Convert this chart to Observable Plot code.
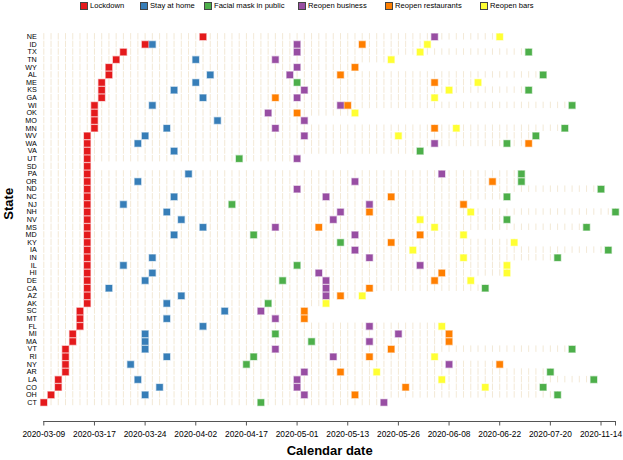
<!DOCTYPE html>
<html><head><meta charset="utf-8">
<script src="https://cdn.jsdelivr.net/npm/d3@7"></script>
<script src="https://cdn.jsdelivr.net/npm/@observablehq/plot@0.6"></script>
<style>
body{margin:0;background:#fff;font-family:"Liberation Sans",Arial,sans-serif;}
#legend{position:relative;width:623px;height:13px;font-size:7.6px;color:#000;}
.li{position:absolute;top:1px;display:flex;align-items:center;white-space:nowrap;line-height:9px;}
.sw{width:6px;height:6px;border:1px solid #444;margin-right:2px;box-sizing:content-box;}
</style></head>
<body><div id="legend"></div><div id="chart"></div>
<script>
const states = ["NE","ID","TX","TN","WY","AL","ME","KS","GA","WI","OK","MO","MN","WV","WA","VA","UT","SD","PA","OR","ND","NC","NJ","NH","NV","MS","MD","KY","IA","IN","IL","HI","DE","CA","AZ","AK","SC","MT","FL","MI","MA","VT","RI","NY","AR","LA","CO","OH","CT"];

const dates = ["2020-03-09","2020-03-10","2020-03-11","2020-03-12","2020-03-13","2020-03-14","2020-03-16","2020-03-17","2020-03-18","2020-03-19",
"2020-03-20","2020-03-21","2020-03-22","2020-03-23","2020-03-24","2020-03-25","2020-03-26","2020-03-27","2020-03-28","2020-03-30",
"2020-04-01","2020-04-02","2020-04-03","2020-04-04","2020-04-06","2020-04-07","2020-04-10","2020-04-15","2020-04-17","2020-04-20",
"2020-04-22","2020-04-24","2020-04-27","2020-04-28","2020-04-30","2020-05-01","2020-05-04","2020-05-05","2020-05-06","2020-05-08",
"2020-05-09","2020-05-11","2020-05-13","2020-05-15","2020-05-16","2020-05-18","2020-05-20","2020-05-22","2020-05-25","2020-05-26",
"2020-05-28","2020-05-29","2020-05-31","2020-06-01","2020-06-03","2020-06-05","2020-06-08","2020-06-10","2020-06-12","2020-06-14",
"2020-06-15","2020-06-17","2020-06-19","2020-06-22","2020-06-26","2020-06-30","2020-07-03","2020-07-07","2020-07-10","2020-07-15",
"2020-07-20","2020-07-23","2020-07-28","2020-08-01","2020-08-17","2020-09-15","2020-10-20","2020-11-14","2020-11-17","2020-11-20"];

const policies = ["Lockdown","Stay at home","Facial mask in public","Reopen business","Reopen restaurants","Reopen bars"];
const colors = ["#E41A1C","#377EB8","#4DAF4A","#984EA3","#FF7F00","#FFFF33"];

// dates per state (same order as states), null = none
const lockdown = ["2020-04-03","2020-03-24","2020-03-21","2020-03-20","2020-03-19","2020-03-19","2020-03-18","2020-03-18","2020-03-18","2020-03-17",
"2020-03-17","2020-03-17","2020-03-17","2020-03-16","2020-03-16","2020-03-16","2020-03-16","2020-03-16","2020-03-16","2020-03-16",
"2020-03-16","2020-03-16","2020-03-16","2020-03-16","2020-03-16","2020-03-16","2020-03-16","2020-03-16","2020-03-16","2020-03-16",
"2020-03-16","2020-03-16","2020-03-16","2020-03-16","2020-03-16","2020-03-16","2020-03-14","2020-03-14","2020-03-14","2020-03-13",
"2020-03-13","2020-03-12","2020-03-12","2020-03-12","2020-03-12","2020-03-11","2020-03-11","2020-03-10","2020-03-09"];
const stayHome = [null,"2020-03-25",null,"2020-04-02",null,"2020-04-04","2020-04-02","2020-03-28","2020-04-03","2020-03-25",
null,"2020-04-06","2020-03-27","2020-03-24","2020-03-23","2020-03-28",null,null,"2020-04-01","2020-03-23",
null,"2020-03-28","2020-03-21","2020-03-27","2020-03-30","2020-04-03","2020-03-28",null,null,"2020-03-25",
"2020-03-21","2020-03-25","2020-03-24","2020-03-19","2020-03-30","2020-03-27","2020-04-07","2020-03-27","2020-04-03","2020-03-24",
"2020-03-24","2020-03-24","2020-03-27","2020-03-22",null,"2020-03-23","2020-03-26","2020-03-24",null];
const mask = [null,null,"2020-07-07",null,null,"2020-07-15","2020-05-01","2020-07-07",null,"2020-08-01",
null,null,"2020-07-28","2020-07-10","2020-06-26","2020-05-31","2020-04-15",null,"2020-07-03","2020-07-03",
"2020-11-14","2020-06-26","2020-04-10","2020-11-20","2020-06-26","2020-09-15","2020-04-20","2020-05-11","2020-11-17","2020-07-23",
"2020-05-01",null,"2020-04-28","2020-06-17",null,"2020-04-24",null,null,null,"2020-04-27",
"2020-05-05","2020-08-01","2020-04-20","2020-04-17","2020-07-20","2020-10-20","2020-07-15","2020-07-23","2020-04-22"];
const reopenBusiness = ["2020-06-03","2020-05-01","2020-05-01","2020-04-27","2020-05-01","2020-04-30",null,"2020-05-04","2020-05-01","2020-05-11",
"2020-04-24","2020-05-04","2020-04-27","2020-05-04","2020-06-03",null,"2020-05-01",null,"2020-06-05","2020-05-15",
"2020-05-01","2020-05-08","2020-05-18","2020-05-11","2020-05-09","2020-04-27","2020-05-15",null,"2020-05-15","2020-05-18",
"2020-05-31","2020-05-06","2020-05-08","2020-05-08","2020-05-08",null,"2020-04-22","2020-04-27","2020-05-18","2020-05-26",
"2020-05-18","2020-04-27","2020-05-09","2020-06-08","2020-05-04","2020-05-01","2020-05-01","2020-05-04","2020-05-22"];
const reopenRestaurants = [null,"2020-05-16",null,null,"2020-05-15","2020-05-11","2020-06-03",null,"2020-04-27","2020-05-13",
"2020-05-01",null,"2020-06-03",null,"2020-07-07",null,null,null,null,"2020-06-19",
null,"2020-05-25","2020-06-12","2020-05-18",null,"2020-05-06","2020-05-31","2020-05-25",null,null,
null,"2020-06-05","2020-06-03","2020-05-18","2020-05-11",null,"2020-05-04","2020-05-04",null,"2020-06-08",
"2020-06-08","2020-05-25","2020-05-18","2020-06-22","2020-05-11",null,"2020-05-28","2020-05-15",null];
const reopenBars = ["2020-06-22","2020-06-01","2020-05-31","2020-05-25",null,null,"2020-06-15","2020-06-08","2020-06-03",null,
"2020-05-15",null,"2020-06-10","2020-05-26",null,null,null,null,null,null,
null,null,null,"2020-06-14","2020-05-31","2020-06-03","2020-06-12","2020-06-30","2020-05-29","2020-06-12",
"2020-06-26","2020-06-26","2020-06-14",null,"2020-05-16","2020-05-08",null,null,"2020-06-05",null,
null,null,"2020-06-03",null,"2020-05-20","2020-06-05","2020-06-17",null,null];

const series = [lockdown, stayHome, mask, reopenBusiness, reopenRestaurants, reopenBars];
const events = [];
series.forEach((arr, p) => arr.forEach((d, i) => { if (d) events.push({state: states[i], date: d, policy: policies[p]}); }));

// faint guide lines in each row, up to that row's last event
const grid = [];
states.forEach((s, i) => {
  const last = d3.max(series, arr => arr[i] ? dates.indexOf(arr[i]) : -1);
  for (let j = 0; j <= last; j++) grid.push({state: s, date: dates[j]});
});

const tickDates = dates.filter((d, i) => i % 7 === 0 || i === dates.length - 1);

// legend
const leg = document.getElementById("legend");
const legLeft = [80, 140, 204, 298, 385, 480];
policies.forEach((p, i) => {
  const it = document.createElement("div");
  it.className = "li"; it.style.left = legLeft[i] + "px";
  it.innerHTML = `<span class="sw" style="background:${colors[i]}"></span><span>${p}</span>`;
  leg.appendChild(it);
});

const H = 447, mT = 19.5, mB = 54.2, axisDy = 15.2;
const plot = Plot.plot({
  width: 623, height: H,
  marginLeft: 43.3, marginRight: 8, marginTop: mT, marginBottom: mB,
  style: {fontFamily: "'Liberation Sans', Arial, sans-serif", background: "#fff"},
  x: {type: "point", domain: dates, padding: 0, round: false},
  y: {type: "band", domain: states, padding: 0, round: false},
  color: {domain: policies, range: colors},
  marks: [
    Plot.tickX(grid, {x: "date", y: "state", stroke: "#e8d6b3", strokeOpacity: 0.6, strokeWidth: 0.9, insetTop: 0.6, insetBottom: 0.6}),
    Plot.dot(events, {x: "date", y: "state", symbol: "square", r: 3.6, fill: "policy", stroke: "policy", strokeOpacity: 0.35, strokeWidth: 1.3}),
    Plot.axisY({tickSize: 0, tickPadding: 7, fontSize: 7.2, label: null}),
    Plot.axisX(tickDates, {anchor: "bottom", tickSize: 4.5, tickPadding: 5, fontSize: 8.4, dy: axisDy, label: null,
      tickFormat: d => d === dates[dates.length - 1] ? "" : d, stroke: "#555"}),
    Plot.text(["Calendar date"], {frameAnchor: "bottom", dy: 48.5, fontWeight: "bold", fontSize: 13}),
    Plot.text(["State"], {frameAnchor: "left", rotate: -90, dx: -35, fontWeight: "bold", fontSize: 13})
  ]
});
const sx = plot.scale("x");
d3.select(plot).append("line")
  .attr("x1", sx.apply(dates[0])).attr("x2", sx.apply(dates[dates.length - 1]))
  .attr("y1", H - mB + axisDy + 0.5).attr("y2", H - mB + axisDy + 0.5)
  .attr("stroke", "#555").attr("stroke-width", 1);
document.getElementById("chart").appendChild(plot);
</script>
</body></html>
